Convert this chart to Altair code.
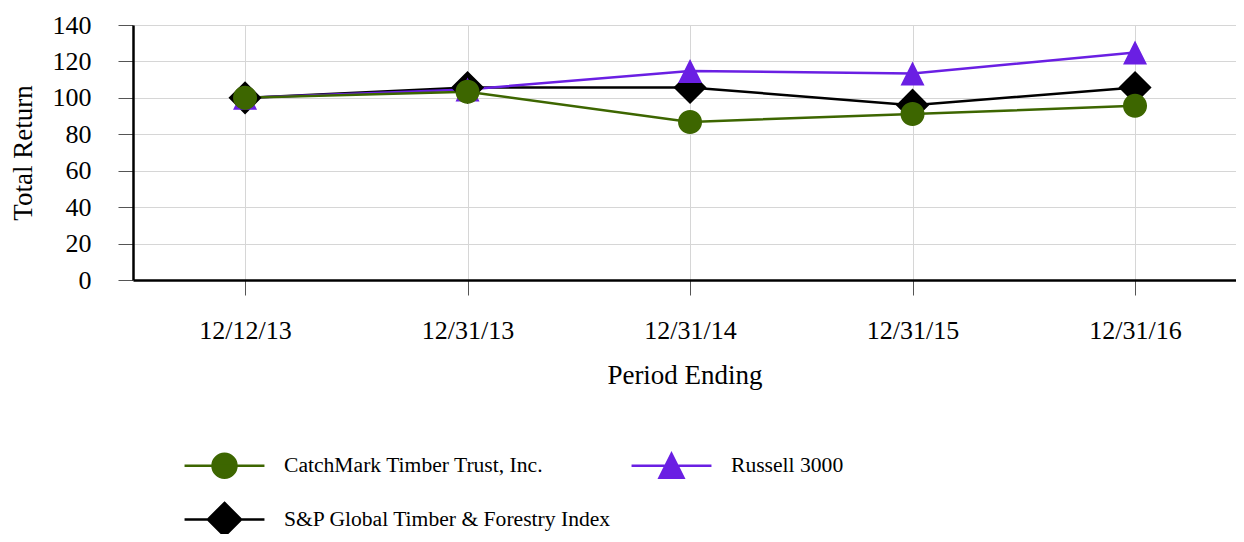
import altair as alt
import pandas as pd

periods = ["12/12/13", "12/31/13", "12/31/14", "12/31/15", "12/31/16"]
series = ["CatchMark Timber Trust, Inc.", "Russell 3000", "S&P Global Timber & Forestry Index"]
catchmark = [100, 103.3, 86.8, 91.1, 95.6]
russell = [100, 104.6, 114.8, 113.4, 124.9]
sp_timber = [100, 105.7, 105.7, 96.0, 105.7]
colors = ["#3d6600", "#6a1fe3", "#000000"]
y_ticks = [0, 20, 40, 60, 80, 100, 120, 140]

# legend order (column-major grid of 2 columns): CatchMark, S&P, Russell
legend_order = [series[0], series[2], series[1]]
legend_colors = [colors[0], colors[2], colors[1]]

# marker shapes with a horizontal line through them (line only shows in the legend)
LINE = "M-3.33,0L3.33,0"
legend_shapes = [
    LINE + "M-1,0A1,1 0 1,1 1,0A1,1 0 1,1 -1,0Z",          # circle
    LINE + "M0,-1.38L1.38,0L0,1.38L-1.38,0Z",              # diamond
    LINE + "M0,-1L1,1L-1,1Z",                              # triangle
]

rows = []
for name, vals in [(series[2], sp_timber), (series[1], russell), (series[0], catchmark)]:
    for p, v in zip(periods, vals):
        rows.append({"period": p, "series": name, "value": v})
df = pd.DataFrame(rows)

FONT = "Liberation Serif"

x = alt.X(
    "period:N",
    sort=periods,
    scale=alt.Scale(padding=0.4787, align=0.526),
    axis=alt.Axis(
        title="Period Ending",
        labelAngle=0,
        tickSize=15,
        labelPadding=22,
        titlePadding=19,
    ),
)
y = alt.Y(
    "value:Q",
    scale=alt.Scale(domain=[0, 140], nice=False),
    axis=alt.Axis(
        title="Total Return",
        values=y_ticks,
        tickSize=15,
        labelPadding=27,
        titlePadding=15,
    ),
)
color_scale = alt.Scale(domain=series, range=colors)
shape_scale = alt.Scale(domain=legend_order, range=legend_shapes)

legend_def = alt.Legend(
    title=None,
    orient="none",
    legendX=78,
    legendY=427,
    columns=2,
    columnPadding=14,
    rowPadding=14,
    labelOffset=46,
    labelFont=FONT,
    labelFontSize=21.6,
    labelColor="#000000",
    labelLimit=0,
    symbolSize=576,
    symbolStrokeWidth=2.5,
    symbolOpacity=1,
    padding=0,
)

legend_layer = (
    alt.Chart(df)
    .transform_filter("false")
    .mark_point(filled=True, opacity=1, strokeWidth=2.5, size=576)
    .encode(
        x=x,
        y=y,
        fill=alt.Fill("series:N", scale=alt.Scale(domain=legend_order, range=legend_colors), legend=legend_def),
        stroke=alt.Stroke("series:N", scale=alt.Scale(domain=legend_order, range=legend_colors), legend=legend_def),
        shape=alt.Shape("series:N", scale=shape_scale, legend=legend_def),
    )
)

lines = alt.Chart(df).mark_line(strokeWidth=2.5).encode(
    x=x,
    y=y,
    color=alt.Color("series:N", scale=color_scale, legend=None),
    detail="series:N",
)

points = alt.Chart(df).mark_point(filled=True, opacity=1, strokeWidth=0, size=576).encode(
    x=x,
    y=y,
    color=alt.Color("series:N", scale=color_scale, legend=None),
    shape=alt.Shape("series:N", scale=shape_scale),
)

chart = (
    alt.layer(legend_layer, lines, points)
    .properties(
        width=1103,
        height=255,
        autosize=alt.AutoSizeParams(type="none"),
        padding={"left": 125, "top": 17, "right": 0, "bottom": 254},
    )
    .configure_view(stroke=None)
    .configure_axis(
        labelFont=FONT,
        titleFont=FONT,
        labelFontSize=26,
        titleFontSize=27,
        titleFontWeight="normal",
        labelColor="#000000",
        titleColor="#000000",
        domainColor="#000000",
        domainWidth=2.5,
        tickColor="#555555",
        tickWidth=1,
        gridColor="#d6d6d6",
        gridWidth=1,
        grid=True,
    )
)

chart.save("out.html", embed_options={"renderer": "svg", "actions": False})
